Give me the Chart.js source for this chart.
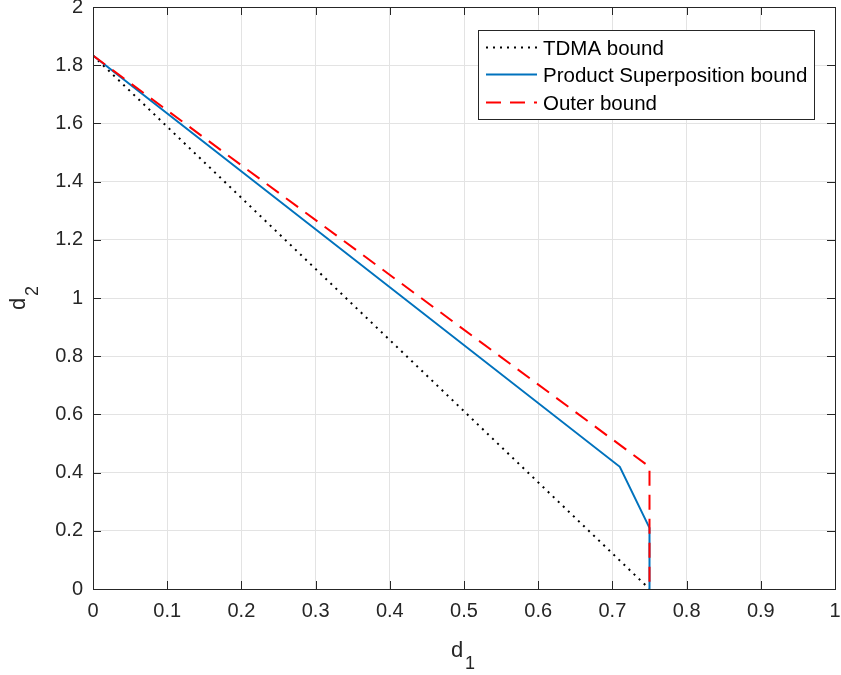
<!DOCTYPE html>
<html lang="en">
<head>
  <meta charset="UTF-8" />
  <title>d1 / d2 bounds</title>
  <script src="https://cdn.jsdelivr.net/npm/chart.js"></script>
  <style>
    html, body { margin: 0; padding: 0; background: #fff; }
    #wrap { width: 841px; height: 675px; position: relative; }
  </style>
</head>
<body>
  <div id="wrap"><canvas id="boundsChart"></canvas></div>

  <script>
    // tick positions
    const d1Ticks = [0, 0.1, 0.2, 0.3, 0.4, 0.5, 0.6, 0.7, 0.8, 0.9, 1];
    const d2Ticks = [0, 0.2, 0.4, 0.6, 0.8, 1, 1.2, 1.4, 1.6, 1.8, 2];

    // TDMA bound
    const tdmaD1 = [0, 0.75];
    const tdmaD2 = [1.833, 0];
    // product superposition bound
    const superD1 = [0, 0.71, 0.75, 0.75];
    const superD2 = [1.833, 0.42, 0.21, 0];
    // outer bound
    const outerD1 = [0, 0.75, 0.75];
    const outerD2 = [1.833, 0.42, 0];

    const seriesNames = ['TDMA bound', 'Product Superposition bound', 'Outer bound'];

    const FONT = '"Liberation Sans", Arial, Helvetica, sans-serif';
    const AXIS = '#262626';

    const toPoints = (xs, ys) => xs.map((x, i) => ({ x: x, y: ys[i] }));

    // box, inward ticks, legend and axis labels
    const matlabFrame = {
      id: 'matlabFrame',
      afterDraw(chart) {
        const ctx = chart.ctx;
        const a = chart.chartArea;
        const xs = chart.scales.x, ys = chart.scales.y;
        const tl = 8;
        ctx.save();
        ctx.strokeStyle = AXIS;
        ctx.lineWidth = 1;
        ctx.beginPath();
        d1Ticks.forEach(v => {
          const px = Math.round(xs.getPixelForValue(v)) + 0.5;
          ctx.moveTo(px, a.bottom); ctx.lineTo(px, a.bottom - tl);
          ctx.moveTo(px, a.top); ctx.lineTo(px, a.top + tl);
        });
        d2Ticks.forEach(v => {
          const py = Math.round(ys.getPixelForValue(v)) + 0.5;
          ctx.moveTo(a.left, py); ctx.lineTo(a.left + tl, py);
          ctx.moveTo(a.right, py); ctx.lineTo(a.right - tl, py);
        });
        ctx.stroke();
        ctx.strokeRect(Math.round(a.left) + 0.5, Math.round(a.top) + 0.5,
                       Math.round(a.right - a.left), Math.round(a.bottom - a.top));

        // legend
        const lx = 478, ly = 30, lw = 336, lh = 89;
        ctx.fillStyle = '#fff';
        ctx.fillRect(lx, ly, lw, lh);
        ctx.strokeRect(lx + 0.5, ly + 0.5, lw, lh);
        const rows = [47, 74, 102];
        chart.data.datasets.forEach((ds, i) => {
          ctx.save();
          ctx.strokeStyle = ds.borderColor;
          ctx.lineWidth = ds.borderWidth;
          ctx.setLineDash(ds.borderDash || []);
          ctx.beginPath();
          ctx.moveTo(486, rows[i] + 0.5);
          ctx.lineTo(537, rows[i] + 0.5);
          ctx.stroke();
          ctx.restore();
          ctx.fillStyle = '#000';
          ctx.font = '20.5px ' + FONT;
          ctx.textBaseline = 'alphabetic';
          ctx.textAlign = 'left';
          ctx.fillText(seriesNames[i], 543, rows[i] + 8);
        });

        // axis labels with subscripts
        ctx.fillStyle = AXIS;
        ctx.textAlign = 'left';
        ctx.textBaseline = 'alphabetic';
        ctx.font = '22px ' + FONT;
        ctx.fillText('d', 451, 657);
        ctx.font = '18px ' + FONT;
        ctx.fillText('1', 465, 669);

        ctx.translate(25, 310);
        ctx.rotate(-Math.PI / 2);
        ctx.font = '22px ' + FONT;
        ctx.fillText('d', 0, 0);
        ctx.font = '18px ' + FONT;
        ctx.fillText('2', 14, 13);
        ctx.restore();
      }
    };

    new Chart(document.getElementById('boundsChart'), {
      type: 'scatter',
      data: {
        datasets: [
          {
            label: seriesNames[0],
            data: toPoints(tdmaD1, tdmaD2),
            showLine: true,
            borderColor: '#000000',
            borderWidth: 2,
            borderDash: [2, 5],
            pointRadius: 0,
            order: 2
          },
          {
            label: seriesNames[1],
            data: toPoints(superD1, superD2),
            showLine: true,
            borderColor: '#0072BD',
            borderWidth: 2,
            pointRadius: 0,
            order: 1
          },
          {
            label: seriesNames[2],
            data: toPoints(outerD1, outerD2),
            showLine: true,
            borderColor: '#FF0000',
            borderWidth: 2,
            borderDash: [15, 9],
            pointRadius: 0,
            order: 0
          }
        ]
      },
      options: {
        responsive: true,
        maintainAspectRatio: false,
        animation: false,
        layout: { padding: { top: 7, right: 6, left: 0, bottom: 0 } },
        plugins: { legend: { display: false }, tooltip: { enabled: false } },
        scales: {
          x: {
            type: 'linear',
            min: 0, max: 1,
            afterBuildTicks: s => { s.ticks = d1Ticks.map(v => ({ value: v })); },
            afterFit: s => {
              s.height = 86;
              s.paddingLeft = 0; s.paddingRight = 0;
            },
            border: { display: false },
            grid: { color: '#e3e3e3', drawTicks: false },
            ticks: {
              padding: 10,
              color: AXIS,
              font: { family: FONT, size: 20 },
              callback: v => String(v)
            }
          },
          y: {
            type: 'linear',
            min: 0, max: 2,
            afterBuildTicks: s => { s.ticks = d2Ticks.map(v => ({ value: v })); },
            afterFit: s => {
              s.width = 93;
              s.paddingTop = 0; s.paddingBottom = 0;
            },
            border: { display: false },
            grid: { color: '#e3e3e3', drawTicks: false },
            ticks: {
              padding: 10,
              color: AXIS,
              font: { family: FONT, size: 20 },
              callback: v => String(v)
            }
          }
        }
      },
      plugins: [matlabFrame]
    });
  </script>
</body>
</html>
